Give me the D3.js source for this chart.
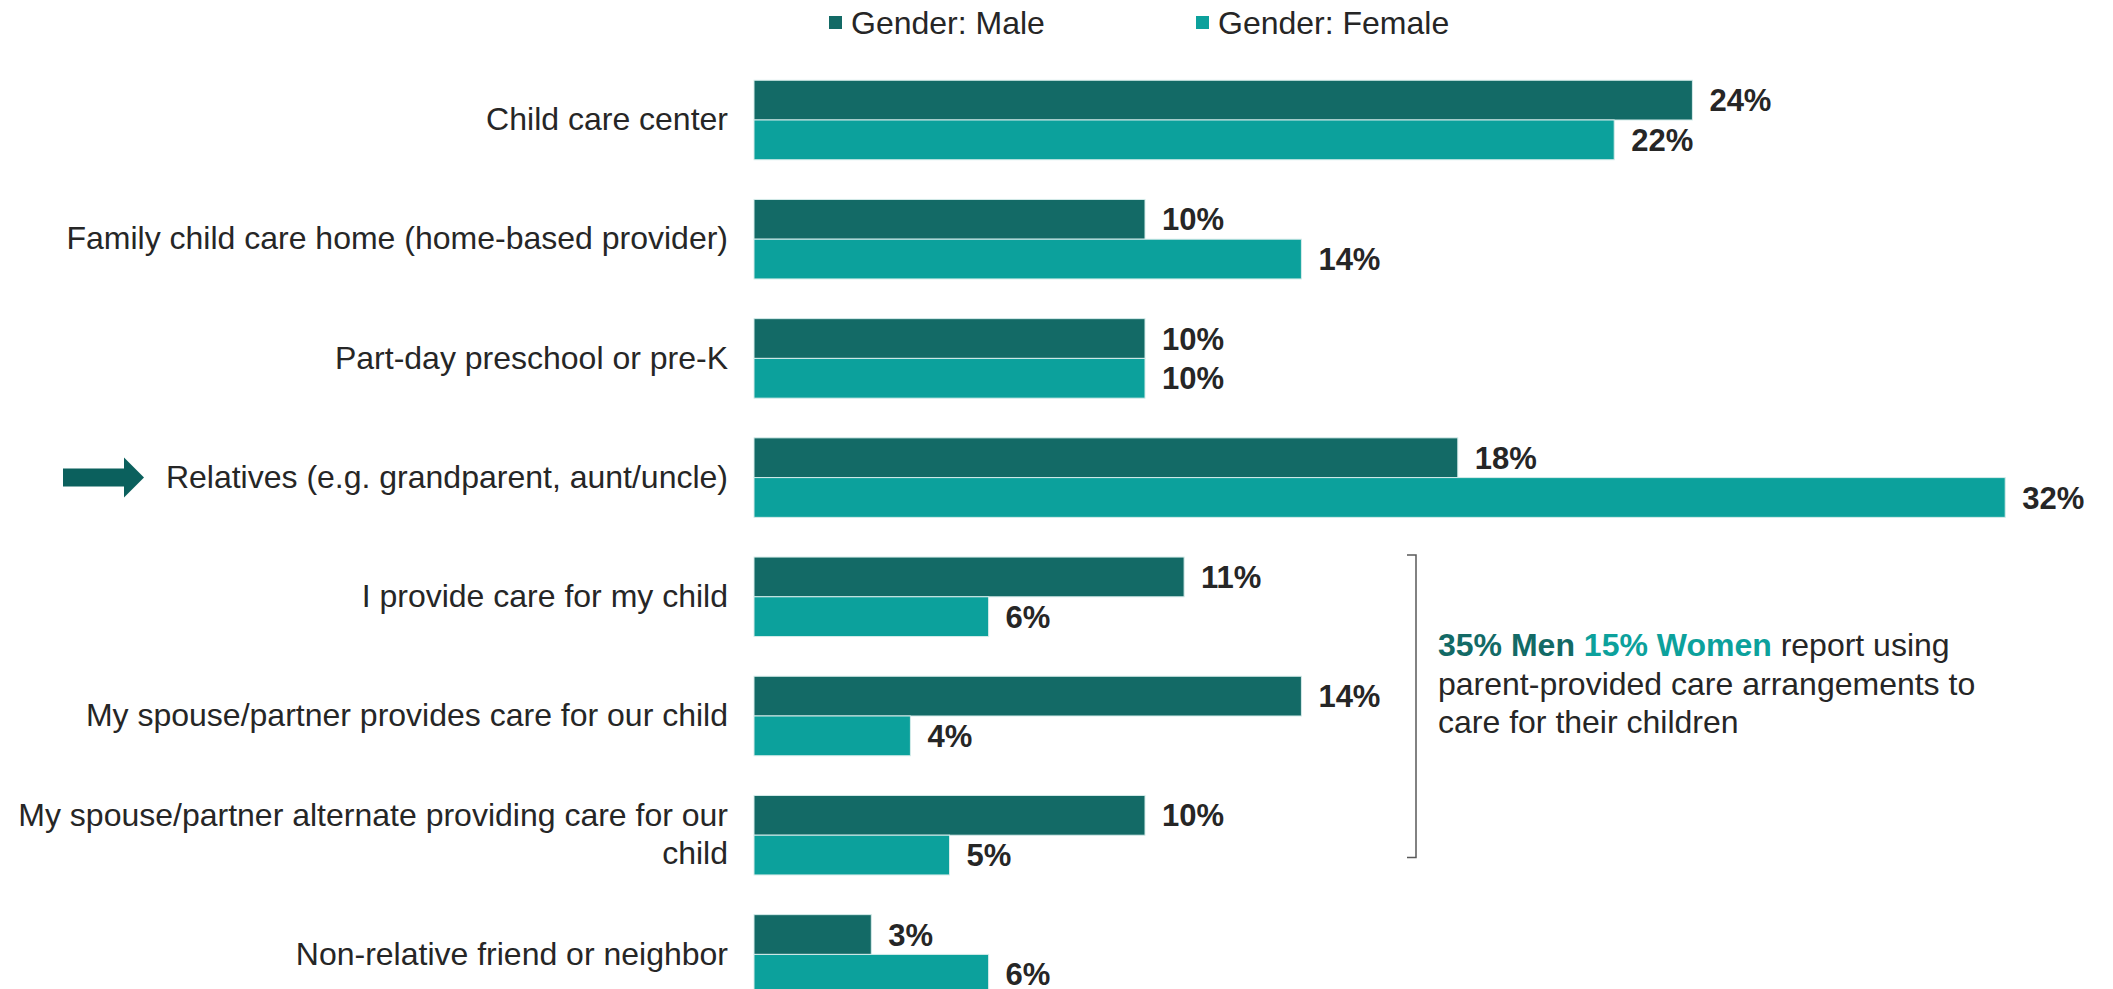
<!DOCTYPE html>
<html>
<head>
<meta charset="utf-8">
<script src="https://cdn.jsdelivr.net/npm/d3@7"></script>
<style>
  body{margin:0;background:#fff;}
  text{font-family:"Liberation Sans",Arial,sans-serif;}
</style>
</head>
<body>
<svg id="canvas"></svg>
<script>
let categories=[
    "Child care center",
    "Family child care home (home-based provider)",
    "Part-day preschool or pre-K",
    "Relatives (e.g. grandparent, aunt/uncle)",
    "I provide care for my child",
    "My spouse/partner provides care for our child",
    "My spouse/partner alternate providing care for our child",
    "Non-relative friend or neighbor"
];
let maleValues=[24,10,10,18,11,14,10,3];
let femaleValues=[22,14,10,32,6,4,5,6];
let seriesNames=["Gender: Male","Gender: Female"];
let seriesKeys=["Male","Female"];
let highlighted="Relatives (e.g. grandparent, aunt/uncle)";
let bracketed=["I provide care for my child","My spouse/partner provides care for our child","My spouse/partner alternate providing care for our child"];
let noteMen="35% Men";
let noteWomen="15% Women";
let noteRest=["report using","parent-provided care arrangements to","care for their children"];

let width=2113;
let height=989;
let colors={Male:"#136a66",Female:"#0ca19c"};
let textColor="#262626";

let canvas=d3.select("#canvas")
canvas.attr('width',width)
canvas.attr('height',height)

let rows=categories.map((c,i)=>({category:c,Male:maleValues[i],Female:femaleValues[i]}));

let xscale=d3.scaleLinear().domain([0,35]).range([754,754+35*39.1]);
let yscale=d3.scaleBand().domain(categories).range([60.4,1014]).paddingInner(0.333).paddingOuter(0.1665);
let subscale=d3.scaleBand().domain(seriesKeys).range([0,yscale.bandwidth()]);

// bars
let groups=canvas.append('g').selectAll('g')
    .data(rows)
    .enter()
    .append('g')
    .attr('transform',(d)=>'translate(0,'+yscale(d.category)+')');

groups.selectAll('rect')
    .data((d)=>seriesKeys.map((k)=>({key:k,value:d[k]})))
    .enter()
    .append('rect')
    .attr('x',xscale(0))
    .attr('y',(d)=>subscale(d.key))
    .attr('width',(d)=>xscale(d.value)-xscale(0))
    .attr('height',subscale.bandwidth())
    .attr('fill',(d)=>colors[d.key])
    .attr('stroke','#d6ecea')
    .attr('stroke-width',1);

groups.selectAll('text.val')
    .data((d)=>seriesKeys.map((k)=>({key:k,value:d[k]})))
    .enter()
    .append('text')
    .attr('class','val')
    .attr('x',(d)=>xscale(d.value)+17)
    .attr('y',(d)=>subscale(d.key)+subscale.bandwidth()/2)
    .attr('dy','0.36em')
    .attr('font-size',31)
    .attr('font-weight','bold')
    .attr('fill',textColor)
    .text((d)=>d.value+'%');

// category axis
let yAxis=d3.axisLeft(yscale).tickSize(0).tickPadding(26);
let axisG=canvas.append('g')
    .attr('transform','translate('+xscale(0)+',0)')
    .call(yAxis);
axisG.select('.domain').remove();
axisG.selectAll('text')
    .attr('font-size',32)
    .attr('font-family','"Liberation Sans",Arial,sans-serif')
    .attr('fill',textColor)
    .each(function(){ wrap(d3.select(this),725); });

function wrap(text,maxW){
    let words=text.text().split(' ');
    let lines=[];
    let line=[];
    text.text(null);
    let probe=text.append('tspan');
    words.forEach((w)=>{
        line.push(w);
        probe.text(line.join(' '));
        if(probe.node().getComputedTextLength()>maxW && line.length>1){
            line.pop();
            lines.push(line.join(' '));
            line=[w];
        }
    });
    lines.push(line.join(' '));
    probe.remove();
    let lh=38;
    let x=text.attr('x');
    lines.forEach((l,i)=>{
        text.append('tspan')
            .attr('x',x)
            .attr('dy',i==0 ? (0.32*32-(lines.length-1)*lh/2)+'px' : lh+'px')
            .text(l);
    });
    text.attr('dy',null);
}

// legend
let legend=canvas.append('g');
let legendX=[829,1196];
seriesKeys.forEach((k,i)=>{
    legend.append('rect')
        .attr('x',legendX[i]).attr('y',16)
        .attr('width',13).attr('height',13)
        .attr('fill',colors[k]);
    legend.append('text')
        .attr('x',legendX[i]+22).attr('y',34)
        .attr('font-size',32)
        .attr('fill',textColor)
        .text(seriesNames[i]);
});

// arrow for highlighted row
let ac=yscale(highlighted)+yscale.bandwidth()/2;
canvas.append('path')
    .attr('d','M63,'+(ac-9)+'H124V'+(ac-20)+'L144,'+ac+'L124,'+(ac+20)+'V'+(ac+9)+'H63Z')
    .attr('fill','#0b605d');

// bracket around parent-provided care
let bTop=yscale(bracketed[0])-2;
let bBot=yscale(bracketed[bracketed.length-1])+yscale.bandwidth()*0.78;
let bx=1416;
canvas.append('path')
    .attr('d','M'+(bx-9)+','+bTop+'H'+bx+'V'+bBot+'H'+(bx-9))
    .attr('fill','none')
    .attr('stroke','#595959')
    .attr('stroke-width',1.5);

let noteY=(bTop+bBot)/2-50;
let note=canvas.append('text')
    .attr('x',bx+22)
    .attr('y',noteY)
    .attr('font-size',32)
    .attr('fill',textColor);
note.append('tspan').attr('font-weight','bold').attr('fill',colors.Male).text(noteMen+' ');
note.append('tspan').attr('font-weight','bold').attr('fill',colors.Female).text(noteWomen+' ');
note.append('tspan').text(noteRest[0]);
noteRest.slice(1).forEach((t,i)=>{
    canvas.append('text')
        .attr('x',bx+22)
        .attr('y',noteY+38.5*(i+1))
        .attr('font-size',32)
        .attr('fill',textColor)
        .text(t);
});
</script>
</body>
</html>
